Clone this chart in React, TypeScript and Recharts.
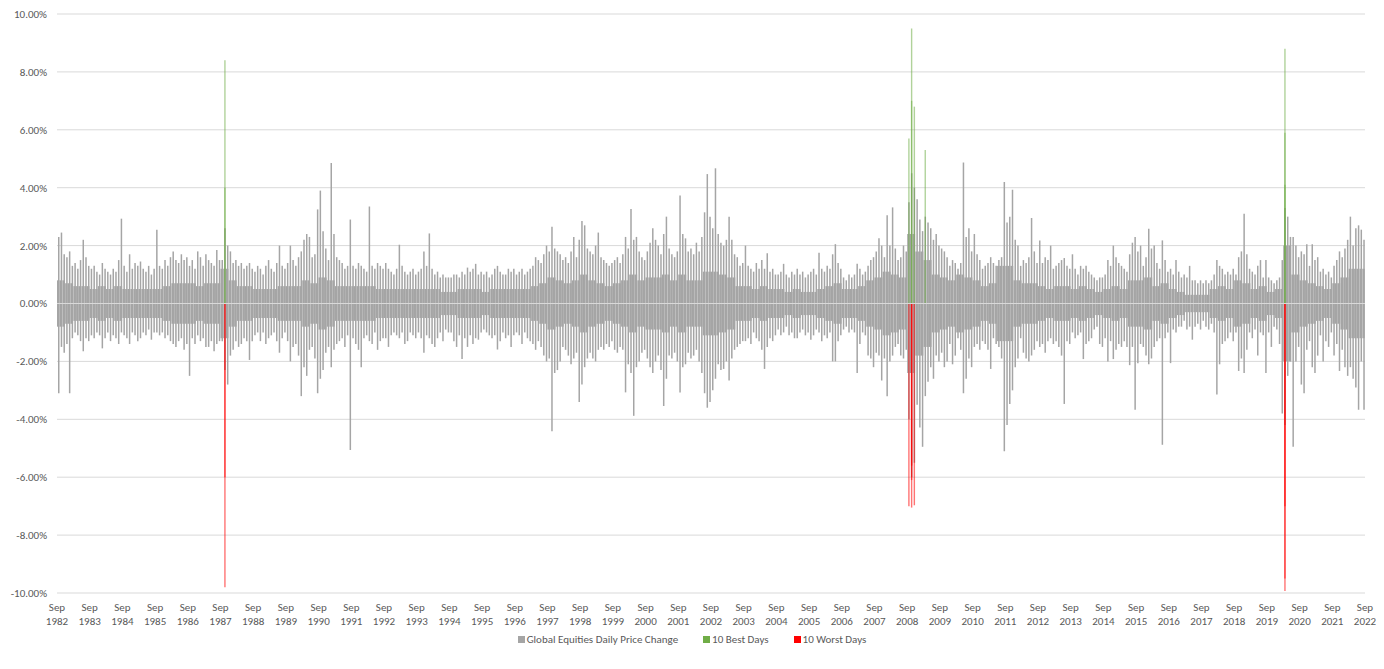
import React from "react";
import { BarChart, Bar, XAxis, YAxis, CartesianGrid, ReferenceLine, Legend } from "recharts";

// ---------- data (monthly envelope of daily % changes, Sep 1982 – Aug 2022) ----------
const TICK_MONTH = "Sep";
const TICK_YEARS = [
  "1982", "1983", "1984", "1985", "1986", "1987", "1988", "1989", "1990", "1991",
  "1992", "1993", "1994", "1995", "1996", "1997", "1998", "1999", "2000", "2001",
  "2002", "2003", "2004", "2005", "2006", "2007", "2008", "2009", "2010", "2011",
  "2012", "2013", "2014", "2015", "2016", "2017", "2018", "2019", "2020", "2021", "2022",
];
const Y_TICKS = [-10, -8, -6, -4, -2, 0, 2, 4, 6, 8, 10];

// largest daily gain within each month (Sep..Aug per row)
const HI_1982_1992 = [
  2.3, 2.45, 1.7, 1.6, 1.8, 1.3, 1.4, 1.2, 1.5, 2.2, 1.6, 1.3,
  1.2, 1.3, 1.1, 1.0, 1.4, 1.2, 1.1, 1.0, 1.2, 1.1, 1.5, 2.93,
  1.3, 1.1, 1.7, 1.2, 1.4, 1.3, 1.45, 1.2, 1.1, 1.3, 1.0, 1.2,
  2.55, 1.3, 1.2, 1.5, 1.3, 1.6, 1.8, 1.5, 1.4, 1.7, 1.5, 1.6,
  1.3, 1.5, 1.2, 1.8, 1.6, 1.3, 1.7, 1.5, 1.4, 1.3, 1.85, 1.5,
  1.5, 2.6, 2.0, 1.8, 1.4, 1.5, 1.3, 1.4, 1.2, 1.3, 1.4, 1.2,
  1.1, 1.3, 1.2, 1.0, 1.3, 1.5, 1.2, 1.1, 1.4, 2.0, 1.3, 1.2,
  1.4, 2.0, 1.5, 1.3, 1.6, 1.8, 2.2, 2.4, 2.3, 1.6, 1.7, 3.25,
  3.9, 2.5, 1.9, 1.5, 4.85, 2.4, 1.6, 1.5, 1.4, 1.2, 1.3, 2.9,
  1.3, 1.2, 1.4, 1.3, 1.2, 1.1, 3.35, 1.3, 1.2, 1.4, 1.3, 1.2,
];
const HI_1992_2002 = [
  1.4, 1.2, 1.1, 1.0, 1.2, 2.03, 1.3, 1.1, 1.0, 1.1, 1.2, 1.0,
  1.1, 1.2, 1.8, 1.3, 2.42, 1.2, 1.0, 1.1, 0.9, 1.0, 0.9, 0.9,
  0.9, 1.0, 1.0, 0.9, 1.1, 1.0, 1.24, 1.1, 1.2, 1.37, 1.0, 1.1,
  1.0, 1.1, 0.9, 1.0, 1.2, 1.3, 1.1, 1.0, 1.0, 1.2, 1.1, 1.2,
  1.0, 1.1, 1.2, 1.0, 1.1, 1.2, 1.3, 1.6, 1.5, 1.4, 1.7, 2.0,
  1.8, 2.65, 1.9, 1.8, 1.7, 1.5, 1.6, 1.4, 1.8, 2.3, 1.6, 2.2,
  2.85, 2.7, 1.9, 1.8, 1.7, 2.0, 2.45, 1.6, 1.5, 1.4, 1.3, 1.4,
  1.5, 1.6, 1.4, 1.7, 2.3, 1.9, 3.26, 2.2, 2.3, 1.8, 1.6, 1.5,
  1.8, 2.1, 2.6, 2.2, 2.0, 1.7, 2.4, 3.0, 1.9, 1.7, 1.6, 1.8,
  3.73, 2.4, 2.25, 1.8, 1.9, 1.7, 2.1, 1.8, 2.3, 3.15, 4.47, 3.0,
];
const HI_2002_2012 = [
  2.6, 4.67, 2.4, 2.1, 2.0, 2.2, 3.0, 2.2, 1.7, 1.6, 1.3, 1.4,
  2.0, 1.3, 1.2, 1.1, 1.4, 1.2, 1.5, 1.2, 1.74, 1.1, 1.2, 1.0,
  1.0, 1.1, 1.37, 1.0, 0.9, 1.1, 1.0, 1.2, 1.0, 1.1, 0.9, 1.0,
  1.1, 1.2, 1.0, 1.75, 1.2, 1.1, 1.3, 1.2, 1.7, 2.05, 1.4, 1.2,
  0.9, 0.8, 1.0, 0.9, 1.0, 1.37, 1.2, 1.0, 1.1, 1.3, 1.5, 1.6,
  1.8, 2.25, 2.0, 1.6, 3.05, 2.0, 3.32, 1.9, 1.5, 1.6, 2.0, 1.8,
  3.5, 4.5, 4.0, 3.6, 2.9, 2.5, 3.0, 2.8, 2.6, 2.2, 2.4, 2.0,
  1.9, 1.8, 1.6, 1.3, 1.5, 1.4, 1.2, 1.4, 4.87, 2.3, 2.6, 1.8,
  2.4, 1.7, 1.5, 1.2, 1.3, 1.4, 1.6, 1.4, 1.3, 1.5, 1.6, 4.2,
  2.8, 3.0, 3.93, 2.2, 2.0, 1.3, 1.5, 1.4, 1.6, 2.95, 1.8, 1.4,
];
const HI_2012_2022 = [
  2.18, 1.4, 1.6, 1.5, 2.0, 1.2, 1.3, 1.4, 1.5, 1.57, 1.3, 1.2,
  1.7, 1.2, 1.0, 1.3, 1.2, 1.3, 1.1, 1.0, 0.9, 0.8, 0.9, 0.9,
  1.0, 1.5, 1.3, 2.0, 1.6, 1.4, 1.3, 1.2, 1.1, 1.7, 2.1, 2.3,
  1.8, 2.0, 1.3, 1.6, 2.58, 1.9, 2.0, 1.4, 1.2, 2.18, 1.5, 1.1,
  1.2, 1.0, 1.5, 1.1, 0.9, 1.0, 0.9, 1.3, 0.8, 0.8, 0.7, 0.8,
  0.7, 0.8, 0.7, 0.8, 1.0, 1.5, 1.3, 1.2, 1.0, 1.1, 1.0, 1.2,
  1.0, 1.6, 1.8, 3.1, 1.7, 1.2, 1.1, 1.0, 1.3, 1.5, 0.9, 1.5,
  0.9, 0.8, 0.7, 0.8, 0.9, 1.5, 3.3, 3.0, 2.3, 2.3, 2.0, 1.6,
  1.8, 1.7, 2.05, 1.3, 2.05, 1.5, 1.6, 1.1, 1.2, 1.0, 1.1, 0.9,
  1.3, 1.5, 1.8, 1.6, 1.9, 2.2, 3.0, 2.0, 2.6, 2.7, 2.55, 2.2,
];

// largest daily loss within each month
const LO_1982_1992 = [
  -3.1, -1.5, -1.7, -1.4, -3.1, -1.2, -1.0, -1.1, -1.3, -1.65, -1.2, -1.3,
  -1.1, -1.2, -1.0, -1.1, -1.55, -1.2, -1.0, -1.3, -1.1, -1.2, -1.4, -1.0,
  -1.1, -1.2, -1.4, -1.0, -1.1, -1.3, -1.2, -1.0, -1.1, -0.9, -1.25, -1.0,
  -1.0, -1.1, -1.0, -1.2, -1.1, -1.3, -1.4, -1.5, -1.3, -1.2, -1.6, -1.4,
  -2.5, -1.2, -1.4, -1.1, -1.3, -1.2, -1.5, -1.5, -1.3, -1.65, -1.4, -1.3,
  -1.3, -2.3, -2.8, -1.8, -1.6, -1.3, -1.5, -1.4, -1.2, -1.3, -1.95, -1.3,
  -1.1, -1.0, -1.3, -1.0, -1.4, -1.2, -1.1, -1.0, -1.3, -1.7, -1.2, -1.0,
  -1.3, -2.0, -1.5, -1.4, -1.8, -3.2, -2.2, -2.5, -1.6, -1.5, -1.9, -3.1,
  -2.6, -2.3, -1.7, -1.5, -2.2, -1.6, -1.4, -1.3, -1.2, -1.5, -1.1, -5.06,
  -1.2, -1.4, -1.6, -2.2, -1.2, -1.1, -1.3, -1.4, -1.0, -1.6, -1.3, -1.2,
];
const LO_1992_2002 = [
  -1.2, -1.5, -1.1, -1.0, -1.1, -1.2, -1.0, -1.4, -1.3, -1.0, -1.1, -1.2,
  -1.0, -1.2, -1.7, -1.1, -1.2, -1.4, -1.5, -1.2, -1.0, -1.3, -0.9, -1.0,
  -1.0, -1.3, -1.5, -1.1, -1.92, -1.2, -1.5, -1.1, -1.4, -1.2, -1.25, -1.0,
  -0.9, -1.0, -1.1, -1.2, -1.1, -1.59, -1.3, -1.0, -1.2, -1.1, -1.5, -1.1,
  -1.0, -1.1, -1.4, -1.0, -1.2, -1.3, -1.4, -1.6, -1.3, -1.5, -1.8, -2.0,
  -1.9, -4.41, -2.4, -2.3, -2.0, -1.5, -1.6, -1.8, -2.1, -1.9, -1.7, -3.4,
  -2.8, -2.2, -1.9, -1.7, -1.9, -2.0, -1.6, -1.5, -1.6, -1.4, -1.5, -1.3,
  -1.6, -1.7, -1.5, -1.6, -3.07, -2.1, -2.4, -3.88, -2.2, -2.0, -1.7, -1.6,
  -1.9, -2.2, -2.4, -2.0, -1.8, -2.3, -3.54, -2.6, -1.8, -1.9, -1.7, -2.0,
  -3.07, -2.2, -2.1, -1.7, -1.9, -1.8, -1.6, -2.0, -2.4, -3.1, -3.6, -3.4,
];
const LO_2002_2012 = [
  -3.0, -2.6, -2.1, -2.3, -2.26, -2.0, -2.66, -1.9, -1.6, -1.5, -1.4, -1.3,
  -1.3, -1.2, -1.4, -1.0, -1.2, -1.3, -1.6, -2.26, -1.5, -1.2, -1.3, -1.1,
  -0.9, -1.1, -1.0, -0.8, -1.1, -1.0, -1.2, -1.2, -1.0, -0.9, -1.1, -1.0,
  -1.25, -1.1, -0.9, -1.0, -1.3, -1.1, -1.2, -1.0, -2.0, -2.0, -1.3, -1.1,
  -0.9, -0.8, -1.0, -0.9, -1.0, -2.4, -1.4, -1.0, -1.1, -1.8, -1.9, -2.2,
  -1.7, -1.8, -2.66, -1.9, -3.2, -2.0, -1.8, -1.5, -1.4, -1.8, -1.9, -1.6,
  -4.0, -6.0, -5.5, -3.5, -4.28, -4.95, -3.2, -2.7, -2.2, -2.6, -1.8, -2.0,
  -1.7, -2.2, -2.0, -1.4, -2.1, -1.8, -1.2, -1.6, -3.1, -2.6, -1.9, -2.2,
  -1.5, -1.4, -1.6, -1.3, -1.4, -1.6, -2.26, -1.2, -1.4, -1.5, -1.9, -5.1,
  -4.2, -3.47, -3.0, -2.2, -1.9, -1.2, -1.7, -1.9, -2.0, -1.8, -1.6, -1.3,
];
const LO_2012_2022 = [
  -1.5, -1.4, -1.7, -1.3, -1.2, -1.4, -1.3, -1.5, -1.8, -3.47, -1.3, -1.4,
  -1.0, -1.2, -1.1, -1.0, -1.92, -1.4, -1.3, -1.2, -0.9, -0.8, -1.4, -1.5,
  -1.2, -2.0, -1.3, -1.92, -1.6, -1.4, -1.5, -1.3, -1.5, -2.13, -1.5, -3.67,
  -2.06, -1.4, -1.5, -1.8, -2.1, -1.9, -1.5, -1.3, -1.2, -4.88, -1.2, -1.0,
  -2.06, -0.9, -1.0, -0.8, -0.8, -0.6, -0.9, -0.8, -1.25, -0.8, -0.7, -0.9,
  -0.6, -0.8, -0.9, -0.7, -1.0, -3.14, -2.1, -1.4, -1.3, -1.2, -1.0, -1.3,
  -1.0, -2.33, -1.9, -2.4, -1.6, -1.0, -1.2, -0.9, -1.8, -1.0, -1.1, -2.4,
  -1.0, -1.5, -0.8, -0.9, -1.4, -3.8, -4.2, -2.5, -2.0, -4.95, -2.0, -1.5,
  -2.8, -3.1, -1.6, -1.3, -2.2, -2.4, -1.8, -1.1, -2.0, -1.3, -1.5, -1.0,
  -1.8, -1.4, -2.33, -1.6, -2.2, -2.5, -2.2, -2.6, -2.9, -3.67, -2.0, -3.67,
];

// typical daily move size per quarter (dense band around zero)
const CORE_1982_1992 = [
  0.8, 0.7, 0.6, 0.6, 0.5, 0.6, 0.5, 0.6, 0.5, 0.5, 0.5, 0.5, 0.5, 0.6, 0.7, 0.7, 0.7, 0.6, 0.7, 0.7,
  1.2, 0.8, 0.6, 0.6, 0.5, 0.5, 0.5, 0.6, 0.6, 0.6, 0.8, 0.7, 0.9, 0.8, 0.6, 0.6, 0.6, 0.6, 0.6, 0.5,
];
const CORE_1992_2002 = [
  0.5, 0.5, 0.5, 0.5, 0.5, 0.5, 0.5, 0.4, 0.4, 0.5, 0.5, 0.5, 0.4, 0.5, 0.5, 0.5, 0.5, 0.5, 0.6, 0.7,
  0.9, 0.8, 0.7, 0.8, 1.0, 0.8, 0.7, 0.6, 0.7, 0.8, 1.0, 0.8, 0.9, 0.9, 1.0, 0.8, 1.0, 0.8, 0.8, 1.1,
];
const CORE_2002_2012 = [
  1.1, 1.0, 0.9, 0.6, 0.6, 0.5, 0.6, 0.5, 0.5, 0.4, 0.5, 0.4, 0.4, 0.5, 0.6, 0.7, 0.5, 0.5, 0.6, 0.8,
  0.9, 1.1, 1.0, 0.9, 2.4, 1.8, 1.5, 1.0, 0.9, 0.8, 1.0, 0.9, 0.8, 0.6, 0.7, 1.3, 1.3, 0.8, 0.7, 0.7,
];
const CORE_2012_2022 = [
  0.6, 0.5, 0.6, 0.6, 0.5, 0.6, 0.5, 0.4, 0.5, 0.6, 0.5, 0.8, 0.8, 0.9, 0.6, 0.7, 0.5, 0.4, 0.3, 0.3,
  0.3, 0.5, 0.6, 0.5, 0.8, 0.7, 0.5, 0.6, 0.4, 0.5, 2.0, 1.0, 0.8, 0.7, 0.6, 0.5, 0.7, 0.9, 1.2, 1.2,
];

// 10 best and 10 worst days (month, % change)
const BEST_DAY_MONTHS = ["1987-10", "1987-10", "2008-09", "2008-10", "2008-10", "2008-11", "2009-03", "2020-03", "2020-03", "2020-03"];
const BEST_DAY_VALUES = [8.4, 4.0, 5.7, 9.5, 7.0, 6.8, 5.3, 8.8, 5.9, 4.1];
const WORST_DAY_MONTHS = ["1987-10", "1987-10", "2008-09", "2008-10", "2008-10", "2008-10", "2008-11", "2020-03", "2020-03", "2020-03"];
const WORST_DAY_VALUES = [-9.8, -6.0, -7.0, -7.05, -6.1, -5.6, -6.97, -9.93, -9.5, -7.0];

const LEGEND_ITEMS = [
  { label: "Global Equities Daily Price Change", color: "#A5A5A5" },
  { label: "10 Best Days", color: "#70AD47" },
  { label: "10 Worst Days", color: "#FF0000" },
];

// ---------- table built from the arrays ----------
const HI = [...HI_1982_1992, ...HI_1992_2002, ...HI_2002_2012, ...HI_2012_2022];
const LO = [...LO_1982_1992, ...LO_1992_2002, ...LO_2002_2012, ...LO_2012_2022];
const CORE = [...CORE_1982_1992, ...CORE_1992_2002, ...CORE_2002_2012, ...CORE_2012_2022];

const monthIndex = (ym: string) => {
  const [y, mo] = ym.split("-").map(Number);
  return (y - 1982) * 12 + (mo - 9);
};

const groupDays = (months: string[], values: number[]) => {
  const map: Record<number, number[]> = {};
  months.forEach((ym, i) => {
    const k = monthIndex(ym);
    (map[k] = map[k] || []).push(values[i]);
  });
  Object.values(map).forEach((arr) => arr.sort((a, b) => Math.abs(b) - Math.abs(a)));
  return map;
};
const BEST_BY_MONTH = groupDays(BEST_DAY_MONTHS, BEST_DAY_VALUES);
const WORST_BY_MONTH = groupDays(WORST_DAY_MONTHS, WORST_DAY_VALUES);

const DATA = HI.map((hi, m) => {
  const c = CORE[Math.floor(m / 3)];
  const best = BEST_BY_MONTH[m] || [];
  const worst = WORST_BY_MONTH[m] || [];
  return {
    x: m + 0.5,
    spike: [LO[m], hi],
    core: [-c, c],
    b0: best[0] ?? null,
    b1: best[1] ?? null,
    b2: best[2] ?? null,
    w0: worst[0] ?? null,
    w1: worst[1] ?? null,
    w2: worst[2] ?? null,
  };
});

const X_TICKS = TICK_YEARS.map((_, i) => i * 12);

// ---------- rendering ----------
const FONT = "Carlito, Lato, 'Open Sans', sans-serif";
const TEXT = "#595959";

const XTick = (props: any) => {
  const { x, y, index } = props;
  return (
    <g transform={`translate(${x},${y})`}>
      <text x={0} y={0} dy={18} textAnchor="middle" fill={TEXT} fontSize={11} fontFamily={FONT}>
        {TICK_MONTH}
      </text>
      <text x={0} y={0} dy={31.5} textAnchor="middle" fill={TEXT} fontSize={11} fontFamily={FONT}>
        {TICK_YEARS[index]}
      </text>
    </g>
  );
};

const LegendContent = () => (
  <div
    style={{
      display: "flex",
      justifyContent: "center",
      alignItems: "center",
      gap: 25,
      fontFamily: FONT,
      fontSize: 11,
      color: TEXT,
      paddingLeft: 11,
    }}
  >
    {LEGEND_ITEMS.map((it) => (
      <div key={it.label} style={{ display: "flex", alignItems: "center" }}>
        <span style={{ width: 7, height: 7, background: it.color, display: "inline-block", marginRight: 2 }} />
        <span>{it.label}</span>
      </div>
    ))}
  </div>
);

const hiddenAxis = (id: string) => (
  <XAxis key={id} xAxisId={id} type="number" dataKey="x" domain={[0, 480]} hide />
);

export default function App() {
  const colorOpacity = 0.55;
  return (
    <BarChart
      width={1370}
      height={655}
      data={DATA}
      margin={{ top: 6, right: 13, left: 0, bottom: 0 }}
      barGap={0}
      barCategoryGap={0}
    >
      <CartesianGrid vertical={false} stroke="#D9D9D9" />
      <XAxis
        type="number"
        dataKey="x"
        domain={[0, 480]}
        ticks={X_TICKS}
        interval={0}
        axisLine={false}
        tickLine={false}
        tickSize={0}
        tickMargin={0}
        height={40}
        tick={<XTick />}
        allowDataOverflow
      />
      {["s", "b0", "b1", "b2", "w0", "w1", "w2"].map(hiddenAxis)}
      <YAxis
        domain={[-10, 10]}
        ticks={Y_TICKS}
        interval={0}
        width={49}
        axisLine={false}
        tickLine={false}
        tickSize={0}
        tickMargin={10}
        tickFormatter={(v: number) => `${v.toFixed(2)}%`}
        tick={{ fill: TEXT, fontSize: 11, fontFamily: FONT }}
      />
      <Bar dataKey="core" fill="#A5A5A5" barSize={2.8} isAnimationActive={false} />
      <Bar xAxisId="s" dataKey="spike" fill="#A5A5A5" barSize={1.5} isAnimationActive={false} />
      <Bar xAxisId="b0" dataKey="b0" fill="#70AD47" fillOpacity={colorOpacity} barSize={1.4} isAnimationActive={false} />
      <Bar xAxisId="b1" dataKey="b1" fill="#70AD47" fillOpacity={colorOpacity} barSize={1.4} isAnimationActive={false} />
      <Bar xAxisId="b2" dataKey="b2" fill="#70AD47" fillOpacity={colorOpacity} barSize={1.4} isAnimationActive={false} />
      <Bar xAxisId="w0" dataKey="w0" fill="#FF0000" fillOpacity={colorOpacity} barSize={1.4} isAnimationActive={false} />
      <Bar xAxisId="w1" dataKey="w1" fill="#FF0000" fillOpacity={colorOpacity} barSize={1.4} isAnimationActive={false} />
      <Bar xAxisId="w2" dataKey="w2" fill="#FF0000" fillOpacity={colorOpacity} barSize={1.4} isAnimationActive={false} />
      <ReferenceLine y={0} stroke="#D9D9D9" strokeWidth={1} />
      <Legend verticalAlign="bottom" height={30} content={<LegendContent />} />
    </BarChart>
  );
}
